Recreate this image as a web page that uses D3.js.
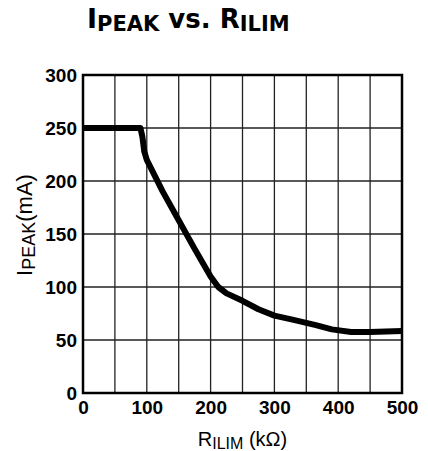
<!DOCTYPE html>
<html>
<head>
<meta charset="utf-8">
<script src="https://cdn.jsdelivr.net/npm/d3@7"></script>
<style>
  body { margin: 0; background: #fff; }
  svg { display: block; font-family: "Liberation Sans", Arial, sans-serif; }
</style>
</head>
<body>
<script>
// Data
const rIlim = [0, 50, 90, 93, 96, 100, 125, 150, 175, 200, 212, 225, 250, 275, 300, 330, 365, 390, 420, 450, 500];
const iPeak = [250, 250, 250, 242, 228, 220, 190, 163, 136, 110, 100, 94, 87, 79, 73, 69, 64, 60, 57.5, 57.5, 58.5];

const xTicks = [0, 100, 200, 300, 400, 500];
const yTicks = [0, 50, 100, 150, 200, 250, 300];
const xGrid = d3.range(0, 501, 50);

const W = 428, H = 451;
const margin = { top: 75, right: 26, bottom: 58, left: 83 },
    width = W - margin.left - margin.right,
    height = H - margin.top - margin.bottom;

const svg = d3.select('body').append('svg')
    .attr('width', W)
    .attr('height', H);

const g = svg.append('g')
    .attr('transform', `translate(${margin.left}, ${margin.top})`);

const x = d3.scaleLinear().domain([0, 500]).range([0, width]);
const y = d3.scaleLinear().domain([0, 300]).range([height, 0]);

// grille
g.append('g')
    .selectAll('line')
    .data(xGrid)
    .join('line')
    .attr('x1', d => x(d)).attr('x2', d => x(d))
    .attr('y1', 0).attr('y2', height)
    .attr('stroke', '#222').attr('stroke-width', 1.3);

g.append('g')
    .selectAll('line')
    .data(yTicks)
    .join('line')
    .attr('x1', 0).attr('x2', width)
    .attr('y1', d => y(d)).attr('y2', d => y(d))
    .attr('stroke', '#222').attr('stroke-width', 1.3);

// axes
const xAxis = g.append('g')
    .attr('transform', `translate(0, ${height})`)
    .call(d3.axisBottom(x).tickValues(xTicks).tickSize(0).tickPadding(8));
const yAxis = g.append('g')
    .call(d3.axisLeft(y).tickValues(yTicks).tickSize(0).tickPadding(6));

[xAxis, yAxis].forEach(a => {
    a.select('.domain').remove();
    a.selectAll('text')
        .attr('font-size', 19)
        .attr('font-weight', 'bold')
        .attr('fill', '#000')
        .attr('font-family', '"Liberation Sans", Arial, sans-serif');
});

// cadre
g.append('rect')
    .attr('x', 0).attr('y', 0)
    .attr('width', width).attr('height', height)
    .attr('fill', 'none')
    .attr('stroke', '#000')
    .attr('stroke-width', 2.5);

// courbe
const line = d3.line()
    .x((d, i) => x(rIlim[i]))
    .y(d => y(d));

g.append('path')
    .datum(iPeak)
    .attr('d', line)
    .attr('fill', 'none')
    .attr('stroke', '#000')
    .attr('stroke-width', 6)
    .attr('stroke-linejoin', 'round');

// titre
const title = svg.append('text')
    .attr('x', 87).attr('y', 28)
    .attr('font-weight', 'bold')
    .attr('font-family', '"DejaVu Sans", sans-serif')
    .attr('fill', '#000');
title.append('tspan').attr('font-size', 27).text('I');
title.append('tspan').attr('font-size', 21).attr('dy', 3).text('PEAK');
title.append('tspan').attr('font-size', 26).attr('dy', -3).text(' vs. R');
title.append('tspan').attr('font-size', 21).attr('dy', 3).text('ILIM');

// label X
const xl = svg.append('text')
    .attr('x', margin.left + width / 2)
    .attr('y', 446)
    .attr('text-anchor', 'middle')
    .attr('font-size', 20)
    .attr('fill', '#000');
xl.append('tspan').text('R');
xl.append('tspan').attr('font-size', 16).attr('dy', 3).text('ILIM');
xl.append('tspan').attr('dy', -3).text(' (kΩ)');

// label Y
const yl = svg.append('text')
    .attr('transform', `translate(32, ${margin.top + height / 2 - 9}) rotate(-90)`)
    .attr('text-anchor', 'middle')
    .attr('font-size', 22)
    .attr('fill', '#000');
yl.append('tspan').text('I');
yl.append('tspan').attr('font-size', 18).attr('dy', 3).text('PEAK');
yl.append('tspan').attr('dy', -3).text('(mA)');
</script>
</body>
</html>
